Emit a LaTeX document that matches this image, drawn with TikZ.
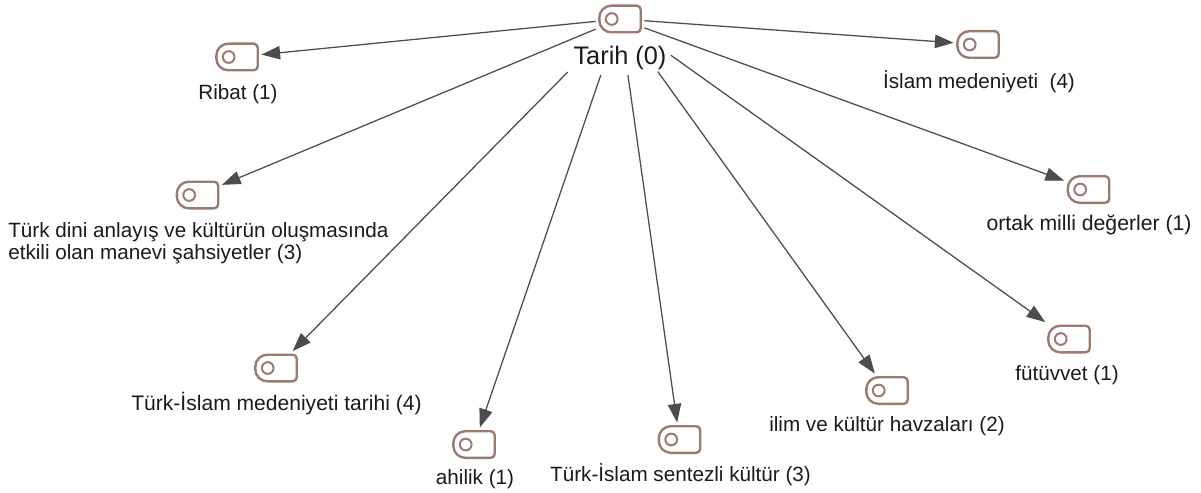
\documentclass[tikz,border=0pt]{standalone}
\usepackage{fontspec}
\setmainfont{Liberation Sans}
\usetikzlibrary{arrows.meta}
\definecolor{iconc}{HTML}{9A7B6E}
\definecolor{edgec}{HTML}{4C4C4C}
\definecolor{textc}{HTML}{1A1A1A}
\tikzset{
  x=0.75pt,y=-0.75pt,
  iconbox/.style={rectangle,minimum width=32.25pt,minimum height=21pt,inner sep=0pt,outer sep=2.2pt},
  iconline/.style={draw=iconc,line width=1.8pt},
  icondot/.style={circle,draw=iconc,line width=1.5pt,minimum size=8.8pt,inner sep=0pt},
  lab/.style={font=\fontsize{15.5}{16.8}\selectfont,text=textc,inner sep=0pt},
  link/.style={draw=edgec,line width=0.95pt,-{Triangle[length=14pt,width=10pt,fill=edgec]}},
}
\newcommand{\iconnode}[3]{%
  \node[iconbox] (#1) at (#2,#3) {};
  \draw[iconline] ([shift={(-8.7,-13.3)}]#1.center) -- ++(25.4,0)
    arc[start angle=90,end angle=0,radius=3pt] -- ++(0,18.6)
    arc[start angle=0,end angle=-90,radius=3pt] -- ++(-25.4,0)
    arc[start angle=-90,end angle=-180,radius=9pt] -- ++(0,-2.6)
    arc[start angle=180,end angle=90,radius=9pt] -- cycle;
  \node[icondot] (#1d) at ([shift={(-8.3,0)}]#1.center) {};
}
\begin{document}
\begin{tikzpicture}
\useasboundingbox (0,0) rectangle (1201,492);
\iconnode{root}{620}{19}
\iconnode{ribat}{237}{57}
\iconnode{islam}{978}{44.5}
\iconnode{dini}{197.5}{195}
\iconnode{ortak}{1088.5}{189.5}
\iconnode{tim}{276}{368}
\iconnode{ahi}{474}{444.5}
\iconnode{sent}{679.5}{439.5}
\iconnode{ilim}{887}{390.5}
\iconnode{fut}{1069}{339}
\foreach \t/\s in {ribat/0,islam/0,dini/0,ortak/0,tim/38,ahi/31,sent/29.6,ilim/33,fut/25}{
  \draw[link,shorten <=\s pt] (root) -- (\t);
}
\node[lab,font=\fontsize{19}{20}\selectfont] (rootlab) at (620,58) {Tarih (0)};
\node[lab] (l1) at (238,94.5) {Ribat (1)};
\node[lab] (l2) at (979,81.5) {İslam medeniyeti \ (4)};
\node[lab,anchor=west,align=left] (l3) at (8,243) {Türk dini anlayış ve kültürün oluşmasında\\etkili olan manevi şahsiyetler (3)};
\node[lab,font=\fontsize{15.9}{17}\selectfont] (l4) at (1089,224.5) {ortak milli değerler (1)};
\node[lab,font=\fontsize{15.8}{17}\selectfont] (l5) at (276.5,404) {Türk-İslam medeniyeti tarihi (4)};
\node[lab] (l6) at (475,479.5) {ahilik (1)};
\node[lab] (l7) at (680.5,474.5) {Türk-İslam sentezli kültür (3)};
\node[lab] (l8) at (887,426) {ilim ve kültür havzaları (2)};
\node[lab] (l9) at (1067,375.5) {fütüvvet (1)};
\end{tikzpicture}
\end{document}
